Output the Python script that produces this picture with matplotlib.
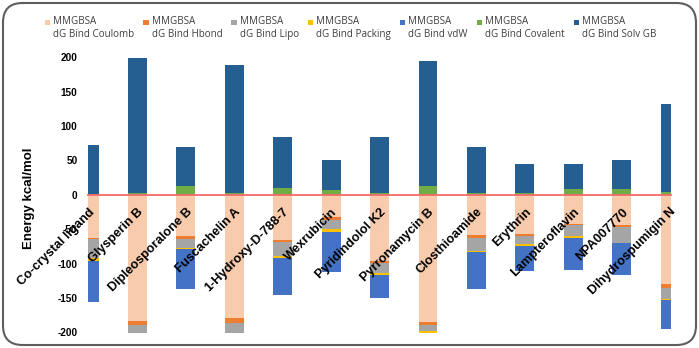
import numpy as np
import matplotlib
matplotlib.use("Agg")
import matplotlib.pyplot as plt
from matplotlib.patches import Rectangle, FancyBboxPatch
from matplotlib.legend_handler import HandlerBase

compounds = ["Co-crystal ligand", "Glysperin B", "Dipleosporalone B", "Fuscachelin A",
             "1-Hydroxy-D-788-7", "Wexrubicin", "Pyridindolol K2", "Pyrronamycin B",
             "Closthioamide", "Erythrin", "Lampteroflavin", "NPA007770", "Dihydrospumigin N"]

coulomb = [-62.5, -183.7, -60.6, -179.4, -65.4, -32.5, -97.0, -184.6, -58.0, -56.7, -42.0, -44.6, -129.4]
hbond = [-1.5, -6.3, -4.4, -7.2, -2.6, -3.5, -2.4, -5.4, -4.5, -2.9, -2.6, -2.4, -5.6]
lipo = [-28.0, -14.0, -12.6, -15.0, -21.7, -13.5, -14.0, -8.7, -19.5, -12.2, -15.6, -22.8, -16.7]
packing = [-4.0, -3.0, -0.8, -3.0, -2.9, -3.9, -3.9, -3.0, -0.8, -2.4, -2.8, -0.8, -1.9]
vdw = [-60.5, -55.0, -58.2, -50.0, -53.8, -59.6, -32.4, -40.0, -54.8, -37.3, -47.0, -45.4, -42.2]
covalent = [1.0, 2.0, 12.5, 3.0, 10.6, 7.7, 3.0, 13.0, 2.0, 2.0, 8.0, 9.0, 4.8]
solv_gb = [72.0, 196.5, 56.7, 186.0, 74.1, 43.6, 80.7, 182.2, 67.8, 42.5, 37.0, 42.3, 127.2]

series_names = ["MMGBSA\ndG Bind Coulomb", "MMGBSA\ndG Bind Hbond", "MMGBSA\ndG Bind Lipo",
                "MMGBSA\ndG Bind Packing", "MMGBSA\ndG Bind vdW", "MMGBSA\ndG Bind Covalent",
                "MMGBSA\ndG Bind Solv GB"]
colors = ["#F8CBAD", "#ED7D31", "#A5A5A5", "#FFC000", "#4472C4", "#70AD47", "#255E91"]
yticks = [-200, -150, -100, -50, 0, 50, 100, 150, 200]

W, H = 699, 348
fig = plt.figure(figsize=(W / 100, H / 100), dpi=100)
fig.patch.set_facecolor("white")

# rounded border
border = FancyBboxPatch((3 / W, 3 / H), (W - 6) / W, (H - 6) / H,
                        boxstyle="round,pad=0,rounding_size=0.028",
                        transform=fig.transFigure, facecolor="none",
                        edgecolor="#5E5E5E", linewidth=1.5, mutation_aspect=W / H)
fig.patches.append(border)

ax = fig.add_axes([88 / W, 1 - 333 / H, (671 - 88) / W, (333 - 57.3) / H])
x = np.arange(len(compounds))
width = 0.39

all_series = [coulomb, hbond, lipo, packing, vdw, covalent, solv_gb]
neg_bottom = np.zeros(len(compounds))
pos_bottom = np.zeros(len(compounds))
handles = []
for vals, col, name in zip(all_series, colors, series_names):
    v = np.array(vals, dtype=float)
    bottom = np.where(v < 0, neg_bottom, pos_bottom)
    b = ax.bar(x, v, width, bottom=bottom, color=col, label=name, zorder=1)
    handles.append(b)
    neg_bottom = neg_bottom + np.where(v < 0, v, 0)
    pos_bottom = pos_bottom + np.where(v >= 0, v, 0)

ax.set_xlim(-0.0225, 12.02)
ax.set_ylim(-201, 200)
ax.set_yticks(yticks)
ax.set_yticklabels([str(t) for t in yticks], fontsize=7.2, fontweight="bold",
                   family="Liberation Sans")
ax.tick_params(axis="y", length=0, pad=7.5)

for s in ["top", "right", "left"]:
    ax.spines[s].set_visible(False)
ax.spines["bottom"].set_position(("data", 0))
ax.spines["bottom"].set_color("#F46A6A")
ax.spines["bottom"].set_linewidth(1.3)
ax.spines["bottom"].set_zorder(5)

ax.set_xticks(x)
ax.set_xticklabels(compounds, rotation=45, ha="right", rotation_mode="anchor",
                   fontsize=9.2, fontweight="bold", family="Liberation Sans")
ax.tick_params(axis="x", length=0, pad=8)

ax.set_ylabel("Energy kcal/mol", fontsize=9.5, fontweight="bold", family="Liberation Sans")
ax.yaxis.set_label_coords(-0.0905, 0.49)


class SquareHandler(HandlerBase):
    def create_artists(self, legend, orig_handle, xdescent, ydescent, width, height,
                       fontsize, trans):
        s = 3.7
        col = orig_handle.patches[0].get_facecolor()
        r = Rectangle((-xdescent, -ydescent + height / 2 - s / 2 + 4.6), s, s,
                      facecolor=col, edgecolor="none", transform=trans)
        return [r]


leg = fig.legend(handles, series_names, ncol=7, loc="upper left",
                 bbox_to_anchor=(45 / W, 1 - 16 / H), frameon=False,
                 prop={"family": "Open Sans", "size": 7.1},
                 handler_map={type(handles[0]): SquareHandler()},
                 handlelength=0.5, handletextpad=0.35, columnspacing=0.9,
                 borderpad=0, borderaxespad=0, labelspacing=0.3)
for t in leg.get_texts():
    t.set_color("#404040")
    t.set_linespacing(1.3)

fig.savefig("out.png", dpi=100)
